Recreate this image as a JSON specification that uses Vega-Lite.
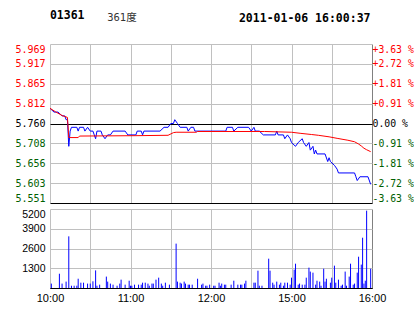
{
  "$schema": "https://vega.github.io/schema/vega-lite/v6.json",
  "padding": {"left": 14, "top": 10, "right": 0, "bottom": 0},
  "background": "white",
  "title": {
    "text": "01361",
    "anchor": "start",
    "dx": 35,
    "font": "DejaVu Sans Mono",
    "fontSize": 11.5,
    "fontWeight": "bold",
    "color": "#000000",
    "offset": -9.5
  },
  "datasets": {
    "last": [
      {"m":0,"p":5.80},{"m":3,"p":5.79},{"m":6,"p":5.79},{"m":9,"p":5.78},{"m":11,"p":5.78},{"m":12,"p":5.77},{"m":13,"p":5.77},{"m":14,"p":5.70},{"m":15,"p":5.74},{"m":16,"p":5.75},{"m":20,"p":5.75},{"m":21,"p":5.74},{"m":22,"p":5.75},{"m":25,"p":5.75},{"m":26,"p":5.74},{"m":28,"p":5.75},{"m":30,"p":5.74},{"m":32,"p":5.74},{"m":33,"p":5.73},{"m":34,"p":5.72},{"m":35,"p":5.74},{"m":38,"p":5.74},{"m":39,"p":5.73},{"m":41,"p":5.72},{"m":43,"p":5.73},{"m":45,"p":5.73},{"m":47,"p":5.74},{"m":56,"p":5.74},{"m":58,"p":5.73},{"m":64,"p":5.73},{"m":65,"p":5.74},{"m":68,"p":5.74},{"m":69,"p":5.73},{"m":70,"p":5.74},{"m":82,"p":5.74},{"m":85,"p":5.75},{"m":88,"p":5.75},{"m":90,"p":5.76},{"m":92,"p":5.76},{"m":93,"p":5.77},{"m":95,"p":5.76},{"m":97,"p":5.75},{"m":102,"p":5.75},{"m":103,"p":5.74},{"m":105,"p":5.75},{"m":107,"p":5.75},{"m":108,"p":5.74},{"m":131,"p":5.74},{"m":132,"p":5.75},{"m":136,"p":5.75},{"m":137,"p":5.74},{"m":140,"p":5.75},{"m":148,"p":5.75},{"m":150,"p":5.74},{"m":152,"p":5.75},{"m":153,"p":5.74},{"m":156,"p":5.74},{"m":159,"p":5.73},{"m":168,"p":5.73},{"m":169,"p":5.74},{"m":170,"p":5.73},{"m":174,"p":5.73},{"m":175,"p":5.72},{"m":177,"p":5.73},{"m":179,"p":5.72},{"m":180,"p":5.71},{"m":183,"p":5.70},{"m":185,"p":5.71},{"m":188,"p":5.72},{"m":189,"p":5.71},{"m":191,"p":5.70},{"m":193,"p":5.71},{"m":194,"p":5.69},{"m":196,"p":5.70},{"m":197,"p":5.68},{"m":198,"p":5.69},{"m":199,"p":5.68},{"m":205,"p":5.68},{"m":207,"p":5.66},{"m":208,"p":5.67},{"m":209,"p":5.66},{"m":212,"p":5.65},{"m":214,"p":5.64},{"m":215,"p":5.63},{"m":227,"p":5.63},{"m":228,"p":5.62},{"m":229,"p":5.61},{"m":231,"p":5.62},{"m":237,"p":5.62},{"m":239,"p":5.60}
    ],
    "avg": [
      {"m":0,"a":5.800},{"m":4,"a":5.791},{"m":9,"a":5.781},{"m":13,"a":5.776},{"m":14,"a":5.723},{"m":21,"a":5.723},{"m":22,"a":5.727},{"m":64,"a":5.728},{"m":88,"a":5.729},{"m":92,"a":5.736},{"m":94,"a":5.737},{"m":109,"a":5.737},{"m":110,"a":5.739},{"m":160,"a":5.739},{"m":170,"a":5.738},{"m":180,"a":5.737},{"m":187,"a":5.734},{"m":195,"a":5.731},{"m":200,"a":5.729},{"m":208,"a":5.725},{"m":214,"a":5.721},{"m":222,"a":5.716},{"m":227,"a":5.712},{"m":230,"a":5.706},{"m":232,"a":5.701},{"m":234,"a":5.695},{"m":236,"a":5.691},{"m":239,"a":5.686}
    ],
    "vol": [
      {"m":1,"v":290},{"m":7,"v":940},{"m":9,"v":290},{"m":12,"v":420},{"m":14,"v":3400},{"m":16,"v":150},{"m":18,"v":150},{"m":20,"v":150},{"m":21,"v":610},{"m":23,"v":350},{"m":25,"v":350},{"m":28,"v":290},{"m":30,"v":290},{"m":32,"v":440},{"m":34,"v":1160},{"m":35,"v":150},{"m":37,"v":220},{"m":42,"v":750},{"m":43,"v":420},{"m":45,"v":290},{"m":47,"v":220},{"m":50,"v":150},{"m":52,"v":290},{"m":53,"v":550},{"m":56,"v":220},{"m":59,"v":480},{"m":60,"v":150},{"m":61,"v":150},{"m":63,"v":220},{"m":66,"v":220},{"m":68,"v":220},{"m":69,"v":350},{"m":71,"v":350},{"m":73,"v":290},{"m":74,"v":150},{"m":76,"v":290},{"m":77,"v":290},{"m":79,"v":550},{"m":81,"v":680},{"m":83,"v":290},{"m":84,"v":150},{"m":86,"v":350},{"m":89,"v":220},{"m":94,"v":2920},{"m":95,"v":420},{"m":97,"v":350},{"m":98,"v":290},{"m":100,"v":420},{"m":101,"v":290},{"m":103,"v":220},{"m":104,"v":220},{"m":106,"v":220},{"m":110,"v":610},{"m":113,"v":220},{"m":114,"v":290},{"m":116,"v":150},{"m":117,"v":150},{"m":119,"v":220},{"m":122,"v":150},{"m":123,"v":150},{"m":126,"v":350},{"m":127,"v":150},{"m":128,"v":290},{"m":130,"v":220},{"m":131,"v":220},{"m":135,"v":220},{"m":137,"v":480},{"m":140,"v":220},{"m":142,"v":220},{"m":143,"v":220},{"m":145,"v":290},{"m":146,"v":480},{"m":152,"v":350},{"m":153,"v":350},{"m":155,"v":1140},{"m":156,"v":150},{"m":158,"v":150},{"m":163,"v":1930},{"m":164,"v":1140},{"m":166,"v":350},{"m":167,"v":220},{"m":169,"v":420},{"m":171,"v":220},{"m":172,"v":350},{"m":174,"v":150},{"m":175,"v":350},{"m":177,"v":350},{"m":179,"v":220},{"m":180,"v":680},{"m":182,"v":1210},{"m":183,"v":1600},{"m":185,"v":220},{"m":186,"v":290},{"m":188,"v":220},{"m":190,"v":220},{"m":191,"v":680},{"m":193,"v":1340},{"m":194,"v":1080},{"m":196,"v":1010},{"m":198,"v":220},{"m":199,"v":480},{"m":201,"v":420},{"m":202,"v":150},{"m":204,"v":1270},{"m":205,"v":420},{"m":206,"v":610},{"m":209,"v":350},{"m":210,"v":680},{"m":212,"v":1470},{"m":213,"v":350},{"m":215,"v":550},{"m":217,"v":150},{"m":218,"v":220},{"m":220,"v":1080},{"m":221,"v":150},{"m":223,"v":750},{"m":224,"v":1600},{"m":226,"v":220},{"m":227,"v":290},{"m":229,"v":1010},{"m":230,"v":2060},{"m":232,"v":1540},{"m":233,"v":3310},{"m":234,"v":290},{"m":235,"v":480},{"m":236,"v":5090},{"m":239,"v":1270}
    ]
  },
  "spacing": 6,
  "bounds": "flush",
  "vconcat": [
    {
      "width": 322,
      "height": 159,
      "resolve": {"scale": {"y": "shared"}, "axis": {"y": "independent"}},
      "layer": [
        {
          "data": {"name": "last"},
          "mark": {"type": "line", "color": "#0000ff", "strokeWidth": 1, "interpolate": "linear"},
          "encoding": {
            "x": {
              "field": "m", "type": "quantitative",
              "scale": {"domain": [0, 240], "nice": false, "zero": false},
              "axis": {"orient": "top", "values": [0,30,60,90,120,150,180,210,240], "labels": false, "ticks": false, "domain": false,
                "title": "2011-01-06 16:00:37", "titleAnchor": "end", "titleAlign": "right", "titleFont": "DejaVu Sans Mono", "titleFontSize": 11.5, "titleFontWeight": "bold", "titleColor": "#000000", "titlePadding": 20.6, "titleX": 320, "titleBaseline": "bottom",
                "grid": true,
                "gridColor": {"condition": {"test": "datum.value == 240", "value": "#808080"}, "value": "#c0c0c0"}}
            },
            "y": {
              "field": "p", "type": "quantitative",
              "scale": {"domain": [5.551, 5.969], "nice": false, "zero": false},
              "axis": {
                "orient": "left",
                "title": "361度", "titleAngle": 0, "titleAlign": "left", "titleBaseline": "alphabetic",
                "titleX": 56.7, "titleY": -23.3,
                "titleFont": "DejaVu Sans Mono, Noto Sans CJK SC", "titleFontSize": 10.5, "titleFontWeight": "normal", "titleColor": "#333333",
                "values": [5.551, 5.603, 5.656, 5.708, 5.76, 5.812, 5.865, 5.917, 5.969],
                "format": ".3f",
                "labelFont": "DejaVu Sans Mono", "labelFontSize": 10,
                "labelFlush": true, "labelPadding": 5, "ticks": false, "tickSize": 0, "domain": false,
                "labelOverlap": false,
                "labelColor": {"condition": [{"test": "datum.value > 5.761", "value": "#ff0000"}, {"test": "datum.value < 5.759", "value": "#006000"}], "value": "#000000"},
                "grid": true,
                "gridColor": {"condition": {"test": "abs(datum.value - 5.76) < 0.0001 || abs(datum.value - 5.551) < 0.0001", "value": "#000000"}, "value": "#c0c0c0"}
              }
            }
          }
        },
        {
          "data": {"name": "avg"},
          "mark": {"type": "line", "color": "#ff0000", "strokeWidth": 1},
          "encoding": {
            "x": {
              "field": "m", "type": "quantitative"
            },
            "y": {
              "field": "a", "type": "quantitative",
              "scale": {"domain": [5.551, 5.969], "nice": false, "zero": false},
              "axis": {
                "orient": "right", "title": null,
                "values": [5.551, 5.603, 5.656, 5.708, 5.76, 5.812, 5.865, 5.917, 5.969],
                "labelExpr": "['-3.63 %','-2.72 %','-1.81 %','-0.91 %','\u00a00.00 %','+0.91 %','+1.81 %','+2.72 %','+3.63 %'][round((datum.value - 5.551) / 0.05225)]",
                "labelFont": "DejaVu Sans Mono", "labelFontSize": 9.8,
                "labelFlush": true, "labelPadding": 0, "ticks": false, "tickSize": 0, "domain": false, "grid": false,
                "labelOverlap": false,
                "labelColor": {"condition": [{"test": "datum.value > 5.761", "value": "#ff0000"}, {"test": "datum.value < 5.759", "value": "#006000"}], "value": "#000000"}
              }
            }
          }
        }
      ]
    },
    {
      "width": 322,
      "height": 79,
      "data": {"name": "vol"},
      "mark": {"type": "rule", "color": "#0000ff", "strokeWidth": 1},
      "encoding": {
        "x": {
          "field": "m", "type": "quantitative",
          "scale": {"domain": [0, 240], "nice": false, "zero": false},
          "axis": {
            "values": [0,30,60,90,120,150,180,210,240],
            "labelExpr": "['10:00','','11:00','','12:00','','15:00','','16:00'][round(datum.value / 30)]",
            "labelFont": "Liberation Sans", "labelFontSize": 11, "labelColor": "#000000",
            "labelFlush": false, "labelOverlap": false, "labelBound": false, "labelPadding": 4,
            "ticks": false, "tickSize": 0, "domain": true, "domainColor": "#000000", "title": null,
            "grid": true,
            "gridColor": {"condition": {"test": "datum.value == 240", "value": "#808080"}, "value": "#c0c0c0"}
          }
        },
        "y": {
          "field": "v", "type": "quantitative",
          "scale": {"domain": [0, 5200], "nice": false},
          "axis": {
            "values": [0, 1300, 2600, 3900, 5200],
            "labelExpr": "datum.value == 0 ? '' : datum.label",
            "format": "d",
            "labelFont": "Liberation Sans", "labelFontSize": 10.5, "labelColor": "#000000",
            "labelFlush": true, "labelOverlap": false, "labelPadding": 5,
            "ticks": false, "tickSize": 0, "domain": false, "title": null,
            "grid": true,
            "gridColor": {"condition": {"test": "datum.value == 0", "value": "#000000"}, "value": "#c0c0c0"}
          }
        },
        "y2": {"datum": 0}
      }
    }
  ],
  "config": {"view": {"stroke": null}}
}
